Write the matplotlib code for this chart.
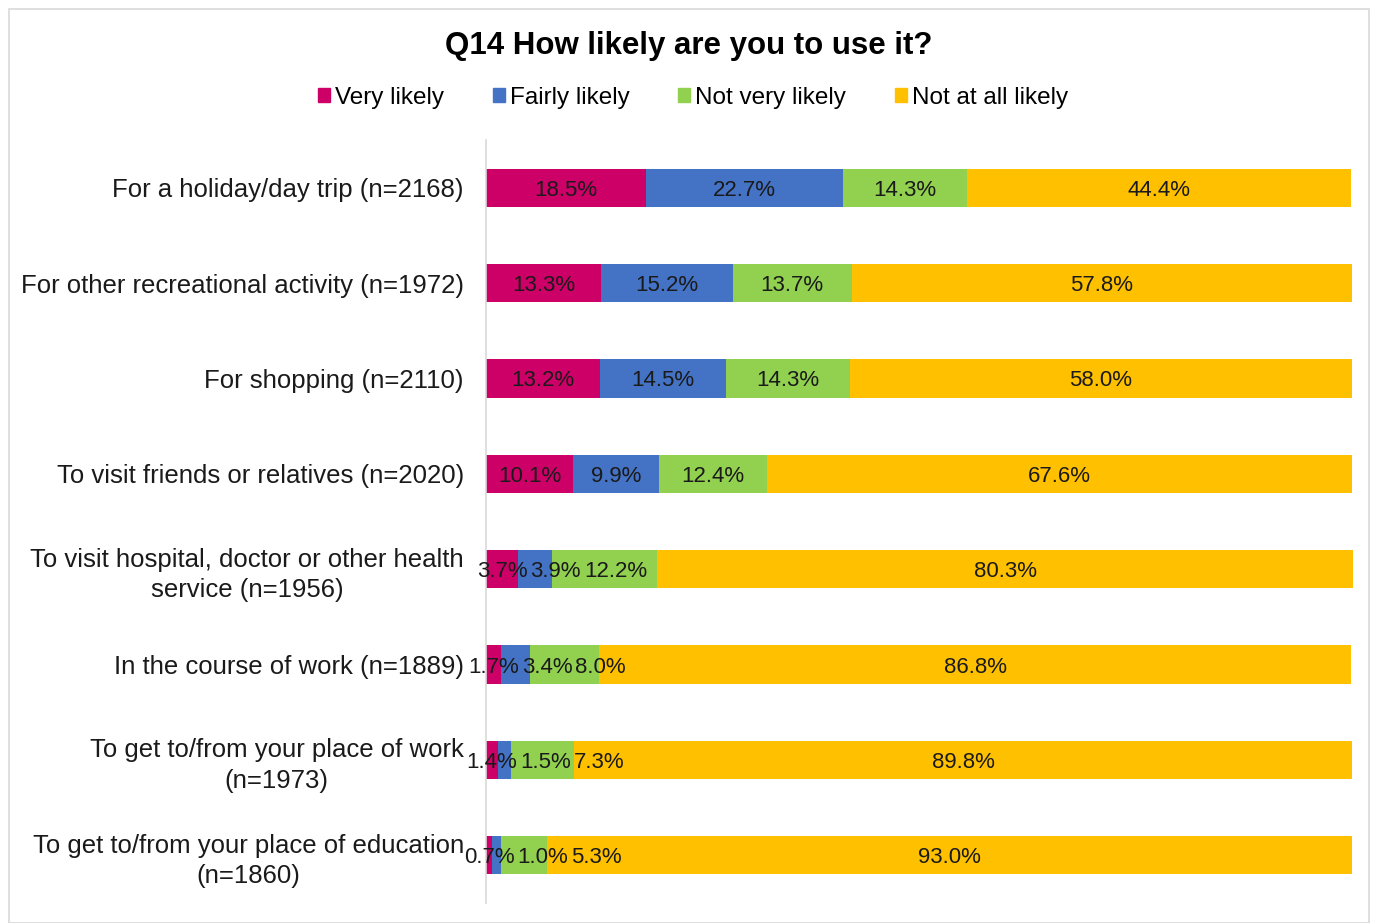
import matplotlib.pyplot as plt
import matplotlib.patches as mpatches
import numpy as np

categories = [
    "For a holiday/day trip (n=2168)",
    "For other recreational activity (n=1972)",
    "For shopping (n=2110)",
    "To visit friends or relatives (n=2020)",
    "To visit hospital, doctor or other health\nservice (n=1956)",
    "In the course of work (n=1889)",
    "To get to/from your place of work\n(n=1973)",
    "To get to/from your place of education\n(n=1860)",
]
series_names = ["Very likely", "Fairly likely", "Not very likely", "Not at all likely"]
very_likely = [18.5, 13.3, 13.2, 10.1, 3.7, 1.7, 1.4, 0.7]
fairly_likely = [22.7, 15.2, 14.5, 9.9, 3.9, 3.4, 1.5, 1.0]
not_very_likely = [14.3, 13.7, 14.3, 12.4, 12.2, 8.0, 7.3, 5.3]
not_at_all_likely = [44.4, 57.8, 58.0, 67.6, 80.3, 86.8, 89.8, 93.0]
colors = ["#CC0066", "#4472C4", "#92D050", "#FFC000"]

plt.rcParams['font.family'] = ['Liberation Sans', 'DejaVu Sans']

fig = plt.figure(figsize=(13.74, 9.23), dpi=100)
ax = fig.add_axes([486 / 1374, 1 - 903 / 923, (1353 - 486) / 1374, (903 - 140) / 923])

# light frame round the chart area
fig.patches.append(mpatches.Rectangle((9 / 1374, 0), 1360 / 1374, 1 - 9 / 923,
                                      transform=fig.transFigure, fill=False,
                                      edgecolor="#D9D9D9", linewidth=1.2))

series = [very_likely, fairly_likely, not_very_likely, not_at_all_likely]
y = np.arange(len(categories))
left = np.zeros(len(categories))
labels = [[] for _ in categories]
for name, vals, col in zip(series_names, series, colors):
    vals = np.array(vals)
    ax.barh(y, vals, left=left, height=0.4, color=col, label=name)
    for i, (yi, l, v) in enumerate(zip(y, left, vals)):
        t = ax.text(l + v / 2, yi, f"{v:.1f}%", ha="center", va="center_baseline",
                    fontsize=16, color="#1a1a1a")
        labels[i].append(t)
    left = left + vals

ax.set_ylim(len(categories) - 0.5, -0.5)
ax.set_xlim(0, left.max())
ax.set_yticks(y)
ax.set_yticklabels(categories, fontsize=18.5, color="#1a1a1a")
for lbl in ax.get_yticklabels():
    lbl.set_multialignment("center")
    lbl.set_linespacing(1.35)
ax.tick_params(axis="y", length=0, pad=16)
ax.set_xticks([])
for s in ["top", "right", "bottom"]:
    ax.spines[s].set_visible(False)
ax.spines["left"].set_color("#D9D9D9")
ax.spines["left"].set_linewidth(1.2)

# nudge crowded data labels to the right so they don't sit on top of each other
fig.canvas.draw()
r = fig.canvas.get_renderer()
px_per_unit = ax.bbox.width / left.max()
for row in labels:
    prev_end = None
    for t in row:
        bb = t.get_window_extent(r)
        if prev_end is not None and bb.x0 < prev_end + 3:
            shift = prev_end + 3 - bb.x0
            x, yy = t.get_position()
            t.set_position((x + shift / px_per_unit, yy))
            prev_end = bb.x1 + shift
        else:
            prev_end = bb.x1

fig.text(0.501, 1 - 46 / 923, "Q14 How likely are you to use it?", ha="center", va="center",
         fontsize=22.5, fontweight="bold")
handles = [mpatches.Patch(color=c) for c in colors]
fig.legend(handles, series_names, loc="center", bbox_to_anchor=(693 / 1374, 1 - 98 / 923),
           ncol=4, frameon=False, fontsize=17.5, handlelength=0.5, handleheight=0.5,
           handletextpad=0.2, columnspacing=2.0)

fig.savefig("out.png", dpi=100)
